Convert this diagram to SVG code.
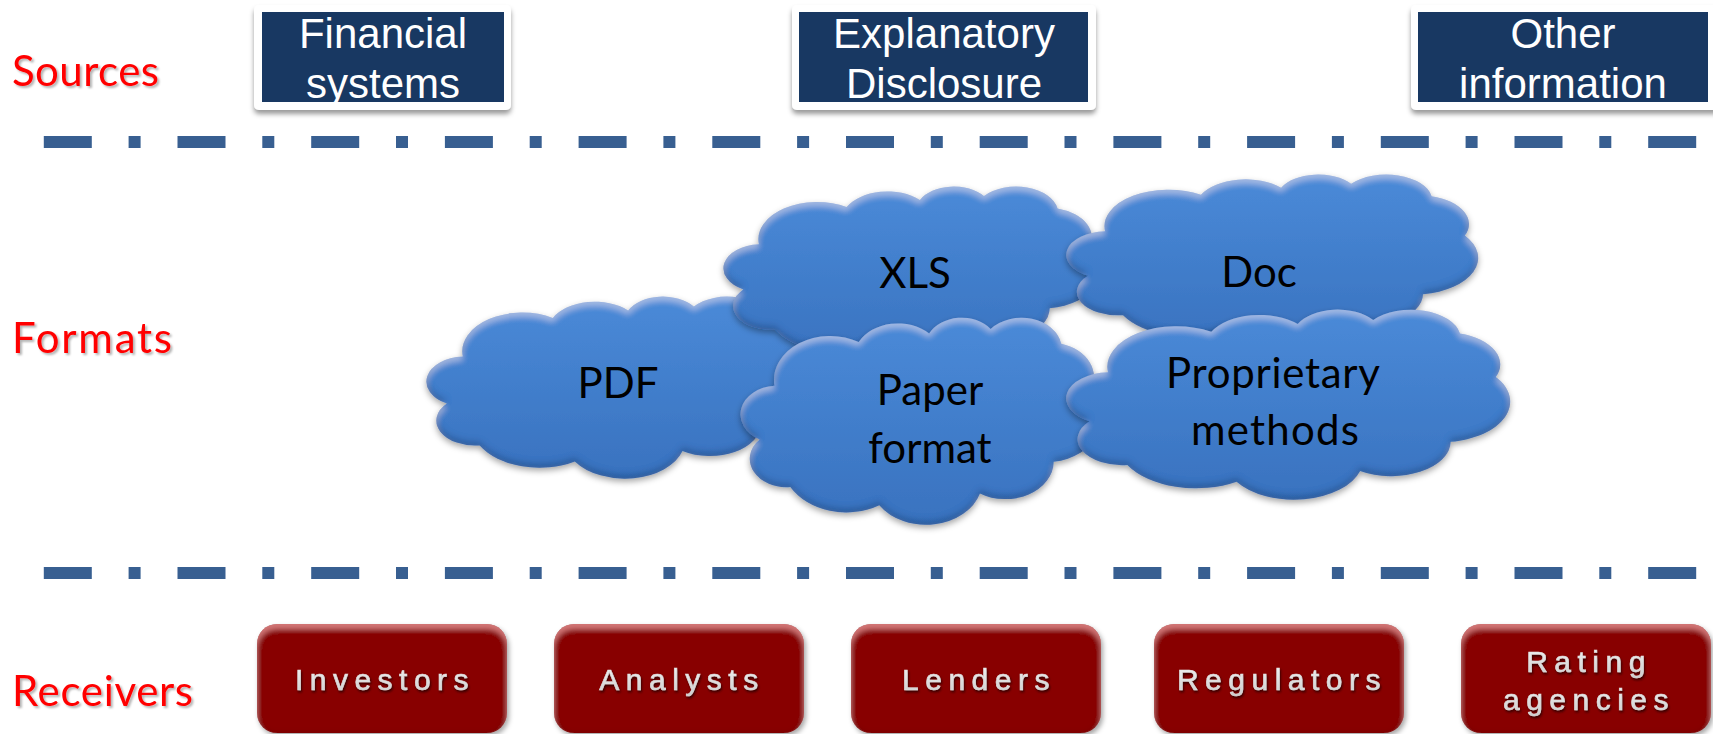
<svg xmlns="http://www.w3.org/2000/svg" xmlns:xlink="http://www.w3.org/1999/xlink" width="1713" height="734" viewBox="0 0 1713 734">
  <defs>
    <style>
      .lbl { font-family: Lato, "Noto Sans", sans-serif; font-size: 42px; fill: #ff0000; }
      .src { font-family: "Liberation Sans", Arial, sans-serif; font-size: 42px; fill: #ffffff; text-anchor: middle; }
      .fmt { font-family: Lato, "Noto Sans", sans-serif; font-size: 42px; fill: #000000; text-anchor: middle; }
      .rcv { font-family: "Liberation Sans", Arial, sans-serif; font-size: 30px; letter-spacing: 6.5px; fill: url(#rcvText); stroke: #dedede; stroke-width: 0.6px; text-anchor: middle; }
      .sep { stroke: #385f91; stroke-width: 12; stroke-dasharray: 48 36.8 12 36.9; fill: none; }
      .frame { fill: #ffffff; }
      .navy { fill: #183862; }
      .cloud { fill: url(#cloudFill); }
      .rbox { fill: #880606; }
    </style>

    <!-- cloud outline in a 432 x 432 box -->
    <path id="cloudShape" d="M 39 143.7
      A 67.53 91.9 0 0 1 140.04 52.01
      A 53.33 72.67 0 0 1 224.55 34.31
      A 43.65 59.45 0 0 1 298.32 24.8
      A 48.57 65.95 0 0 1 383.18 55.74
      A 53.33 72.73 0 0 1 418.18 154.58
      A 67.75 92.2 0 0 1 374.03 302
      A 57.85 78.67 0 0 1 285.54 368.1
      A 67.52 92.15 0 0 1 164.79 392.62
      A 77.2 105.43 0 0 1 58.02 354.66
      A 43.6 59.18 0 0 1 21.11 255.44
      A 43.45 59.45 0 0 1 39 143.7 Z"/>

    <linearGradient id="cloudFill" x1="0" y1="0" x2="0" y2="1">
      <stop offset="0" stop-color="#4a8ad8"/>
      <stop offset="1" stop-color="#3972bf"/>
    </linearGradient>

    <linearGradient id="rcvText" x1="0" y1="0" x2="0" y2="1">
      <stop offset="0" stop-color="#f4f4f4"/>
      <stop offset="1" stop-color="#cdcdcd"/>
    </linearGradient>

    <!-- soft drop shadow with a rounded rim -->
    <filter id="cloudFx" x="-5%" y="-10%" width="110%" height="125%">
      <feGaussianBlur in="SourceAlpha" stdDeviation="3" result="b"/>
      <feOffset in="b" dx="0" dy="3" result="sh"/>
      <feFlood flood-color="#000000" flood-opacity="0.35"/>
      <feComposite in2="sh" operator="in" result="shadow"/>
      <feOffset in="b" dx="0" dy="4" result="bd"/>
      <feComposite in="SourceAlpha" in2="bd" operator="out" result="topRim"/>
      <feFlood flood-color="#ffffff" flood-opacity="0.35"/>
      <feComposite in2="topRim" operator="in" result="hi"/>
      <feOffset in="b" dx="0" dy="-4" result="bu"/>
      <feComposite in="SourceAlpha" in2="bu" operator="out" result="botRim"/>
      <feFlood flood-color="#0a2a5a" flood-opacity="0.45"/>
      <feComposite in2="botRim" operator="in" result="lo"/>
      <feMerge>
        <feMergeNode in="shadow"/>
        <feMergeNode in="SourceGraphic"/>
        <feMergeNode in="hi"/>
        <feMergeNode in="lo"/>
      </feMerge>
    </filter>

    <!-- receiver tiles: shadow, light upper rim, slightly dark edges -->
    <filter id="boxFx" x="-5%" y="-10%" width="110%" height="125%">
      <feGaussianBlur in="SourceAlpha" stdDeviation="2.5" result="b"/>
      <feOffset in="b" dx="2" dy="3" result="sh"/>
      <feFlood flood-color="#000000" flood-opacity="0.35"/>
      <feComposite in2="sh" operator="in" result="shadow"/>
      <feOffset in="b" dx="0" dy="5" result="bd"/>
      <feComposite in="SourceAlpha" in2="bd" operator="out" result="topRim"/>
      <feFlood flood-color="#ff9a9a" flood-opacity="0.55"/>
      <feComposite in2="topRim" operator="in" result="hi"/>
      <feComposite in="SourceAlpha" in2="b" operator="out" result="edge"/>
      <feFlood flood-color="#2a0000" flood-opacity="0.35"/>
      <feComposite in2="edge" operator="in" result="lo"/>
      <feMerge>
        <feMergeNode in="shadow"/>
        <feMergeNode in="SourceGraphic"/>
        <feMergeNode in="lo"/>
        <feMergeNode in="hi"/>
      </feMerge>
    </filter>

    <filter id="frameShadow" x="-5%" y="-10%" width="110%" height="135%">
      <feGaussianBlur in="SourceAlpha" stdDeviation="2.5"/>
      <feOffset dx="0" dy="4" result="o"/>
      <feFlood flood-color="#000000" flood-opacity="0.4"/>
      <feComposite in2="o" operator="in"/>
      <feMerge>
        <feMergeNode/>
        <feMergeNode in="SourceGraphic"/>
      </feMerge>
    </filter>

    <filter id="textShadow" x="-5%" y="-20%" width="115%" height="150%">
      <feGaussianBlur in="SourceAlpha" stdDeviation="1.2"/>
      <feOffset dx="2" dy="2" result="o"/>
      <feFlood flood-color="#000000" flood-opacity="0.3"/>
      <feComposite in2="o" operator="in"/>
      <feMerge>
        <feMergeNode/>
        <feMergeNode in="SourceGraphic"/>
      </feMerge>
    </filter>

    <filter id="rcvShadow" x="-5%" y="-20%" width="115%" height="150%">
      <feGaussianBlur in="SourceAlpha" stdDeviation="0.8"/>
      <feOffset dx="1" dy="1.5" result="o"/>
      <feFlood flood-color="#1a0000" flood-opacity="0.75"/>
      <feComposite in2="o" operator="in"/>
      <feMerge>
        <feMergeNode/>
        <feMergeNode in="SourceGraphic"/>
      </feMerge>
    </filter>
  </defs>

  <rect width="1713" height="734" fill="#ffffff"/>

  <!-- row captions -->
  <g id="captions" filter="url(#textShadow)">
    <text class="lbl" x="12" y="86" textLength="147">Sources</text>
    <text class="lbl" x="12" y="353" textLength="160">Formats</text>
    <text class="lbl" x="12" y="706" textLength="181">Receivers</text>
  </g>

  <!-- dash-dot separators between the rows -->
  <g id="connectors">
    <line class="sep" x1="43.8" y1="142" x2="1700" y2="142"/>
    <line class="sep" x1="43.8" y1="573" x2="1700" y2="573"/>
  </g>

  <!-- sources -->
  <g id="src-financial">
    <rect class="frame" x="254" y="5" width="257" height="105" rx="5" filter="url(#frameShadow)"/>
    <rect class="navy" x="262" y="12" width="242" height="90"/>
    <text class="src" x="383" y="48">Financial</text>
    <text class="src" x="383" y="98">systems</text>
  </g>
  <g id="src-explanatory">
    <rect class="frame" x="792" y="5" width="304" height="105" rx="5" filter="url(#frameShadow)"/>
    <rect class="navy" x="799" y="12" width="289" height="90"/>
    <text class="src" x="944" y="48">Explanatory</text>
    <text class="src" x="944" y="98">Disclosure</text>
  </g>
  <g id="src-other">
    <rect class="frame" x="1411" y="5" width="320" height="105" rx="5" filter="url(#frameShadow)"/>
    <rect class="navy" x="1418" y="12" width="290" height="90"/>
    <text class="src" x="1563" y="48">Other</text>
    <text class="src" x="1563" y="98">information</text>
  </g>

  <!-- formats -->
  <g id="fmt-pdf">
    <g filter="url(#cloudFx)">
      <use xlink:href="#cloudShape" class="cloud" transform="translate(428 296) scale(0.8912 0.4213)"/>
    </g>
    <text class="fmt" x="618" y="398">PDF</text>
  </g>
  <g id="fmt-xls">
    <g filter="url(#cloudFx)">
      <use xlink:href="#cloudShape" class="cloud" transform="translate(725 186) scale(0.8681 0.4051)"/>
    </g>
    <text class="fmt" x="915" y="288">XLS</text>
  </g>
  <g id="fmt-doc">
    <g filter="url(#cloudFx)">
      <use xlink:href="#cloudShape" class="cloud" transform="translate(1068 174) scale(0.9491 0.3981)"/>
    </g>
    <text class="fmt" x="1259" y="287">Doc</text>
  </g>
  <g id="fmt-paper">
    <g filter="url(#cloudFx)">
      <use xlink:href="#cloudShape" class="cloud" transform="translate(742 317) scale(0.8333 0.4792)"/>
    </g>
    <text class="fmt" x="930" y="405">Paper</text>
    <text class="fmt" x="930" y="463">format</text>
  </g>
  <g id="fmt-proprietary">
    <g filter="url(#cloudFx)">
      <use xlink:href="#cloudShape" class="cloud" transform="translate(1068 309) scale(1.0231 0.4398)"/>
    </g>
    <text class="fmt" x="1273" y="388" textLength="214">Proprietary</text>
    <text class="fmt" x="1275" y="445" textLength="168">methods</text>
  </g>

  <!-- receivers -->
  <g id="rcv-investors">
    <rect class="rbox" x="257" y="624" width="250" height="109" rx="20" filter="url(#boxFx)"/>
    <text class="rcv" x="385" y="690" filter="url(#rcvShadow)">Investors</text>
  </g>
  <g id="rcv-analysts">
    <rect class="rbox" x="554" y="624" width="250" height="109" rx="20" filter="url(#boxFx)"/>
    <text class="rcv" x="682" y="690" filter="url(#rcvShadow)">Analysts</text>
  </g>
  <g id="rcv-lenders">
    <rect class="rbox" x="851" y="624" width="250" height="109" rx="20" filter="url(#boxFx)"/>
    <text class="rcv" x="979" y="690" filter="url(#rcvShadow)">Lenders</text>
  </g>
  <g id="rcv-regulators">
    <rect class="rbox" x="1154" y="624" width="250" height="109" rx="20" filter="url(#boxFx)"/>
    <text class="rcv" x="1282" y="690" filter="url(#rcvShadow)">Regulators</text>
  </g>
  <g id="rcv-rating">
    <rect class="rbox" x="1461" y="624" width="250" height="109" rx="20" filter="url(#boxFx)"/>
    <text class="rcv" x="1589" y="672" filter="url(#rcvShadow)">Rating</text>
    <text class="rcv" x="1589" y="710" filter="url(#rcvShadow)">agencies</text>
  </g>
</svg>
